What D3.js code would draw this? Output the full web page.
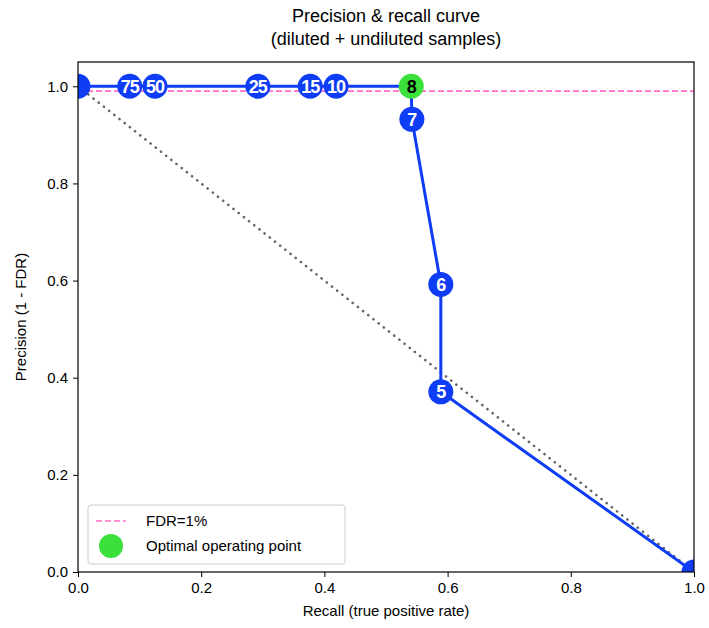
<!DOCTYPE html>
<html>
<head>
<meta charset="utf-8">
<script src="https://cdn.jsdelivr.net/npm/d3@7"></script>
<style>
  body { margin: 0; background: #fff; }
  text { font-family: "Liberation Sans", Arial, sans-serif; }
</style>
</head>
<body>
<div id="chart"></div>
<script>
// threshold labels, recall and precision for each point on the curve
var labels = ["", "75", "50", "25", "15", "10", "8", "7", "6", "5", ""];
var recall = [0, 0.084, 0.125, 0.292, 0.377, 0.419, 0.541, 0.542, 0.589, 0.589, 1.0];
var precision = [1, 1, 1, 1, 1, 1, 1, 0.932, 0.592, 0.371, 0];
var optimalLabel = "8";
var fdrLevel = 0.99;
var xTicks = [0, 0.2, 0.4, 0.6, 0.8, 1.0];
var yTicks = [0, 0.2, 0.4, 0.6, 0.8, 1.0];

var data = labels.map(function(l, i) { return {label: l, r: recall[i], p: precision[i]}; });

var margin = {top: 62, right: 15, bottom: 56, left: 78},
    width = 709 - margin.left - margin.right,
    height = 628 - margin.top - margin.bottom;

var svg = d3.select("#chart")
  .append("svg")
  .attr("width", 709)
  .attr("height", 628)
  .append("g")
  .attr("transform", "translate(" + margin.left + "," + margin.top + ")");

var x = d3.scaleLinear().domain([0, 1]).range([0, width]);
var y = d3.scaleLinear().domain([0, 1.05]).range([height, 0]);

svg.append("clipPath").attr("id", "clip")
  .append("rect").attr("width", width).attr("height", height);

var blue = "#0f3cf5";
var pink = "#ff6ec7";
var green = "#3be03b";

// axes
var xAxis = svg.append("g")
  .attr("transform", "translate(0," + height + ")")
  .call(d3.axisBottom(x).tickValues(xTicks).tickFormat(d3.format(".1f")).tickSizeOuter(0).tickSize(5).tickPadding(5));
var yAxis = svg.append("g")
  .call(d3.axisLeft(y).tickValues(yTicks).tickFormat(d3.format(".1f")).tickSizeOuter(0).tickSize(5).tickPadding(5));
[xAxis, yAxis].forEach(function(a) {
  a.selectAll("text").style("font-size", "15px").attr("fill", "#000");
  a.selectAll("line").attr("stroke", "#000");
  a.select(".domain").remove();
});

var plot = svg.append("g").attr("clip-path", "url(#clip)");

// chance diagonal
plot.append("line")
  .attr("x1", x(0)).attr("y1", y(1)).attr("x2", x(1)).attr("y2", y(0))
  .attr("stroke", "#666").attr("stroke-width", 2.6)
  .attr("stroke-dasharray", "0.1 6.5").attr("stroke-linecap", "round");

// FDR line
plot.append("line")
  .attr("x1", 0).attr("x2", width).attr("y1", y(fdrLevel)).attr("y2", y(fdrLevel))
  .attr("stroke", pink).attr("stroke-width", 1.6).attr("stroke-dasharray", "6 3");

// curve
var line = d3.line().x(function(d) { return x(d.r); }).y(function(d) { return y(d.p); });
plot.append("path").datum(data)
  .attr("d", line).attr("fill", "none").attr("stroke", blue).attr("stroke-width", 3);

var pts = plot.selectAll(".pt").data(data).enter().append("g")
  .attr("transform", function(d) { return "translate(" + x(d.r) + "," + y(d.p) + ")"; });
pts.append("circle").attr("r", 12.5)
  .attr("fill", function(d) { return d.label === optimalLabel ? green : blue; });
pts.append("text").text(function(d) { return d.label; })
  .attr("text-anchor", "middle").attr("dy", "0.36em")
  .style("font-size", "18px").style("font-weight", "bold")
  .style("letter-spacing", "-1px")
  .attr("fill", function(d) { return d.label === optimalLabel ? "#000" : "#fff"; });

// frame
svg.append("rect").attr("width", width).attr("height", height)
  .attr("fill", "none").attr("stroke", "#000").attr("stroke-width", 1.2);

// legend
var lg = svg.append("g").attr("transform", "translate(10," + (height - 67) + ")");
lg.append("rect").attr("width", 257).attr("height", 59).attr("rx", 3)
  .attr("fill", "#fff").attr("fill-opacity", 0.8).attr("stroke", "#ccc");
lg.append("line").attr("x1", 8).attr("x2", 38).attr("y1", 16).attr("y2", 16)
  .attr("stroke", pink).attr("stroke-width", 1.6).attr("stroke-dasharray", "6 3");
lg.append("text").attr("x", 58).attr("y", 16).attr("dy", "0.35em")
  .style("font-size", "15px").text("FDR=1%");
lg.append("circle").attr("cx", 23).attr("cy", 41).attr("r", 12).attr("fill", green);
lg.append("text").attr("x", 58).attr("y", 41).attr("dy", "0.35em")
  .style("font-size", "15px").text("Optimal operating point");

// titles
svg.append("text").attr("x", width / 2).attr("y", -40).attr("text-anchor", "middle")
  .style("font-size", "18px").text("Precision & recall curve");
svg.append("text").attr("x", width / 2).attr("y", -17).attr("text-anchor", "middle")
  .style("font-size", "18px").text("(diluted + undiluted samples)");

svg.append("text").attr("x", width / 2).attr("y", height + 44).attr("text-anchor", "middle")
  .style("font-size", "15px").text("Recall (true positive rate)");
svg.append("text").attr("transform", "rotate(-90)")
  .attr("x", -height / 2).attr("y", -52).attr("text-anchor", "middle")
  .style("font-size", "15px").text("Precision (1 - FDR)");
</script>
</body>
</html>
